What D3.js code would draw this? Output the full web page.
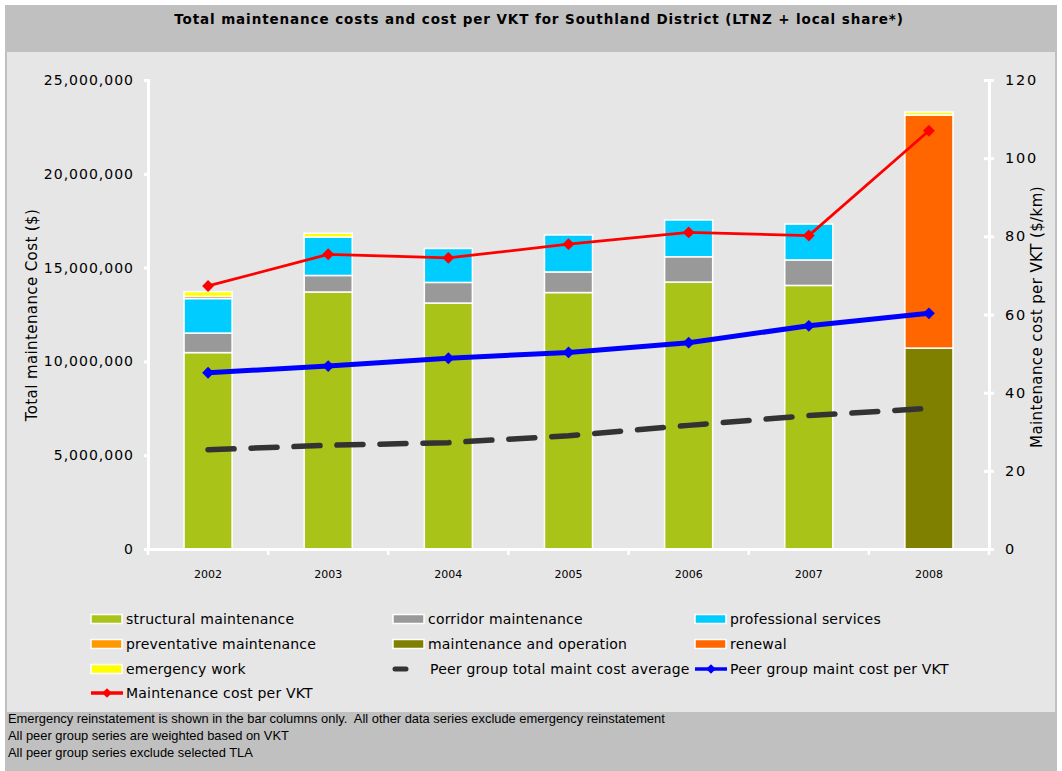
<!DOCTYPE html>
<html>
<head>
<meta charset="utf-8">
<script src="https://cdn.jsdelivr.net/npm/d3@7"></script>
<style>
  body{margin:0;background:#fff;}
  svg text{font-family:"DejaVu Sans",Verdana,sans-serif;}
</style>
</head>
<body>
<svg id="chart" width="1062" height="771"></svg>
<script>
// 数据 (dollars / $ per km)
var years = ["2002","2003","2004","2005","2006","2007","2008"];
var structural   = [10470000,13700000,13110000,13670000,14230000,14050000,0];
var corridor     = [1040000,880000,1100000,1100000,1350000,1360000,0];
var professional = [1840000,2050000,1810000,1970000,1960000,1910000,0];
var preventative = [120000,0,0,0,0,0,0];
var maintOp      = [0,0,0,0,0,0,10710000];
var renewal      = [0,0,0,0,0,0,12420000];
var emergency    = [250000,200000,0,0,0,0,160000];
var peerTotal    = [5290000,5530000,5670000,6040000,6590000,7110000,7500000];
var peerPerVkt   = [45.1,46.8,48.8,50.3,52.8,57.1,60.3];
var costPerVkt   = [67.3,75.4,74.5,78.0,81.0,80.2,107.0];
var leftTicks  = [0,5000000,10000000,15000000,20000000,25000000];
var rightTicks = [0,20,40,60,80,100,120];

var stackNames = ["structural maintenance","corridor maintenance","professional services",
  "preventative maintenance","maintenance and operation","renewal","emergency work"];
var stackVals = [structural,corridor,professional,preventative,maintOp,renewal,emergency];
var stackCols = ["#aac318","#999999","#00ccff","#ff9900","#808000","#ff6600","#ffff00"];

var svg = d3.select("#chart");

// 背景
svg.append("rect").attr("x",5).attr("y",5).attr("width",1052).attr("height",766).attr("fill","#c0c0c0");
svg.append("rect").attr("x",7).attr("y",52).attr("width",1048).attr("height",660).attr("fill","#e6e6e6");

svg.append("text")
  .attr("x",539).attr("y",24)
  .attr("text-anchor","middle")
  .attr("font-size","13.5px").attr("font-weight","bold").attr("letter-spacing","0.9px")
  .text("Total maintenance costs and cost per VKT for Southland District (LTNZ + local share*)");

var x = d3.scaleBand().domain(years).range([148,989]).paddingInner(0.6).paddingOuter(0.3);
var yL = d3.scaleLinear().domain([0,25000000]).range([549,80]);
var yR = d3.scaleLinear().domain([0,120]).range([549,80]);

// 堆叠柱
var table = years.map(function(y,i){
  var row = {year:y};
  stackNames.forEach(function(n,k){ row[n] = stackVals[k][i]; });
  return row;
});
var series = d3.stack().keys(stackNames)(table);

svg.append("g").attr("class","bars")
  .selectAll("g")
  .data(series)
  .enter()
  .append("g")
  .attr("fill",function(d,i){return stackCols[i];})
  .selectAll("rect")
  .data(function(d){return d.filter(function(p){return p[1]-p[0] > 0;});})
  .enter()
  .append("rect")
  .attr("x",function(d){return x(d.data.year);})
  .attr("width",x.bandwidth())
  .attr("y",function(d){return yL(d[1]);})
  .attr("height",function(d){return yL(d[0])-yL(d[1]);})
  .attr("stroke","#fff")
  .attr("stroke-width",1.5);

// 轴
var axL = svg.append("g").attr("transform","translate(148,0)")
  .call(d3.axisLeft(yL).tickValues(leftTicks).tickSize(4).tickPadding(10).tickFormat(d3.format(",")));
var axR = svg.append("g").attr("transform","translate(989,0)")
  .call(d3.axisRight(yR).tickValues(rightTicks).tickSize(5).tickPadding(11));
var axB = svg.append("g").attr("transform","translate(0,549)")
  .call(d3.axisBottom(x).tickSize(0).tickPadding(21));

[axL,axR,axB].forEach(function(a){
  a.select(".domain").attr("stroke","#fff").attr("stroke-width",3);
  a.selectAll(".tick line").attr("stroke","#fff").attr("stroke-width",3);
  a.selectAll("text").attr("fill","#000").style("font-family","DejaVu Sans, sans-serif");
});
axL.selectAll("text").attr("font-size","14px").attr("letter-spacing","1px");
axR.selectAll("text").attr("font-size","14.5px").attr("letter-spacing","1.8px");
axR.selectAll(".tick line").attr("x1",-5);
axB.selectAll("text").attr("font-size","11px");
axB.select(".domain").attr("d","M148,0.5H989");

// x 轴分隔刻度
var bounds = d3.range(years.length+1).map(function(i){return 148 + i*(841/years.length);});
svg.append("g").selectAll("line").data(bounds).enter().append("line")
  .attr("x1",function(d){return d;}).attr("x2",function(d){return d;})
  .attr("y1",549).attr("y2",555)
  .attr("stroke","#fff").attr("stroke-width",2.5);

svg.append("text")
  .attr("transform","translate(37,315) rotate(-90)")
  .attr("text-anchor","middle").attr("font-size","15px").attr("letter-spacing","0.4px")
  .text("Total maintenance Cost ($)");
svg.append("text")
  .attr("transform","translate(1042,317) rotate(-90)")
  .attr("text-anchor","middle").attr("font-size","15px").attr("letter-spacing","0.4px")
  .text("Maintenance cost per VKT ($/km)");

// 折线
var cx = function(d,i){return x(years[i]) + x.bandwidth()/2;};

svg.append("path")
  .datum(peerTotal)
  .attr("fill","none").attr("stroke","#333333").attr("stroke-width",5.5)
  .attr("stroke-linecap","round").attr("stroke-dasharray","26,17")
  .attr("d",d3.line().x(cx).y(function(d){return yL(d);}));

function markerLine(data,color,w,size){
  var g = svg.append("g");
  g.append("path").datum(data)
    .attr("fill","none").attr("stroke",color).attr("stroke-width",w)
    .attr("d",d3.line().x(cx).y(function(d){return yR(d);}));
  g.selectAll("path.pt").data(data).enter().append("path")
    .attr("class","pt")
    .attr("d",d3.symbol().type(d3.symbolDiamond2).size(size))
    .attr("transform",function(d,i){return "translate("+cx(d,i)+","+yR(d)+")";})
    .attr("fill",color);
}
markerLine(peerPerVkt,"#0000ff",5,90);
markerLine(costPerVkt,"#ff0000",2.8,90);

// 图例
var legendItems = [
  {name:"structural maintenance",type:"bar",color:stackCols[0]},
  {name:"corridor maintenance",type:"bar",color:stackCols[1]},
  {name:"professional services",type:"bar",color:stackCols[2]},
  {name:"preventative maintenance",type:"bar",color:stackCols[3]},
  {name:"maintenance and operation",type:"bar",color:stackCols[4]},
  {name:"renewal",type:"bar",color:stackCols[5]},
  {name:"emergency work",type:"bar",color:stackCols[6]},
  {name:"Peer group total maint cost average",type:"dash",color:"#333333"},
  {name:"Peer group maint cost per VKT",type:"line",color:"#0000ff"},
  {name:"Maintenance cost per VKT",type:"line",color:"#ff0000"}
];
var colX = [91,393,695];
var rowY = [619,644,669,693];

var lg = svg.append("g").attr("class","legend")
  .selectAll("g")
  .data(legendItems)
  .enter()
  .append("g")
  .attr("transform",function(d,i){return "translate("+colX[i%3]+","+rowY[Math.floor(i/3)]+")";})
  .each(function(d){
    var _this = d3.select(this);
    if(d.type == "bar"){
      _this.append("rect").attr("x",0).attr("y",-4.5).attr("width",31).attr("height",9)
        .attr("fill",d.color).attr("stroke","#fff").attr("stroke-width",1.5);
    }else if(d.type == "dash"){
      _this.append("line").attr("x1",2).attr("x2",13).attr("y1",0).attr("y2",0)
        .attr("stroke",d.color).attr("stroke-width",5).attr("stroke-linecap","round");
    }else{
      _this.append("line").attr("x1",0).attr("x2",32).attr("y1",0).attr("y2",0)
        .attr("stroke",d.color).attr("stroke-width",3.5);
      _this.append("path").attr("d",d3.symbol().type(d3.symbolDiamond2).size(60))
        .attr("transform","translate(16,0)").attr("fill",d.color);
    }
    _this.append("text").attr("x",d.type == "dash" ? 37 : 35).attr("y",5)
      .attr("font-size","14px").attr("letter-spacing","0.2px").text(d.name);
  });

// 脚注
var notes = ["Emergency reinstatement is shown in the bar columns only.  All other data series exclude emergency reinstatement",
  "All peer group series are weighted based on VKT",
  "All peer group series exclude selected TLA"];
svg.append("g").selectAll("text").data(notes).enter().append("text")
  .attr("x",8).attr("y",function(d,i){return 723 + i*17;})
  .attr("font-size","12.9px").style("font-family","Liberation Sans, Arial, sans-serif")
  .attr("xml:space","preserve").style("white-space","pre")
  .text(function(d){return d;});
</script>
</body>
</html>
